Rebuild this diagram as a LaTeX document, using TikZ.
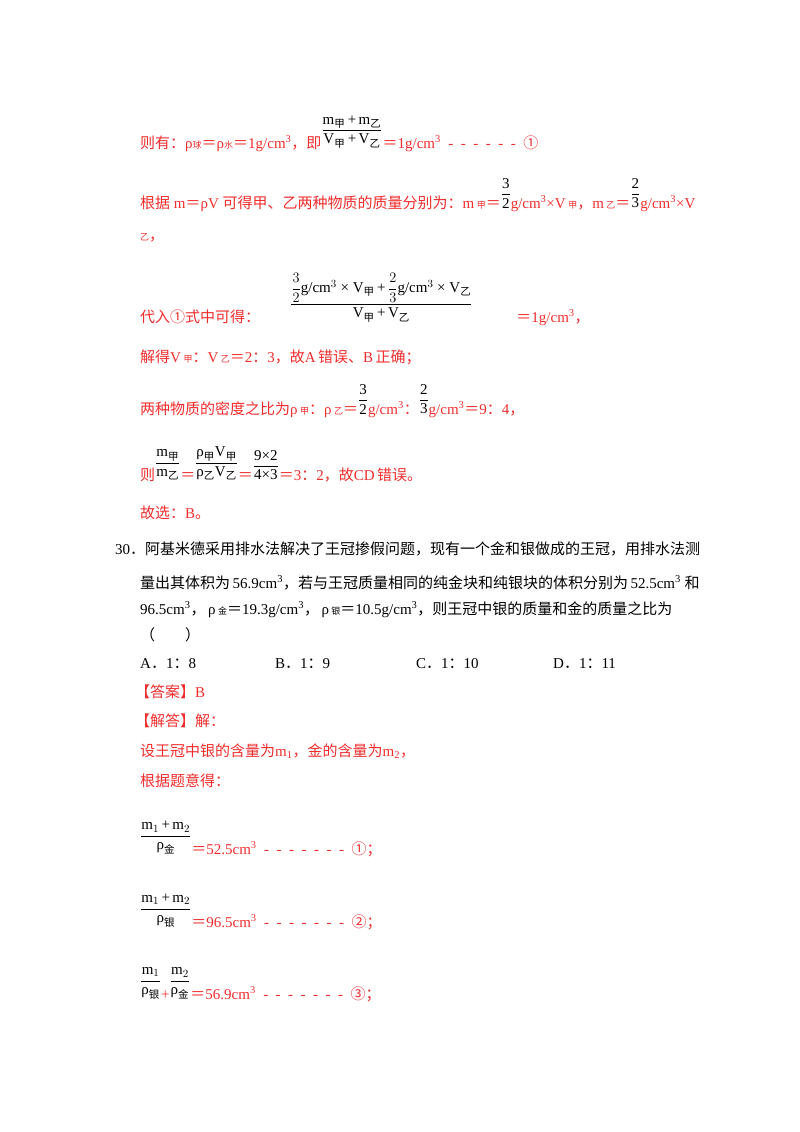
\documentclass[tikz,border=0pt]{standalone}
\usepackage{amsmath}
\usepackage{fontspec}
\setmainfont{Liberation Serif}
\newfontfamily\cjk{Noto Sans CJK SC}
\definecolor{ansred}{RGB}{240,45,45}
\newcommand{\zh}[1]{{\cjk #1}}
\newcommand{\sub}[1]{{\fontsize{9}{10}\selectfont\cjk #1}}
\newcommand{\cube}{\textsuperscript{3}}
\newcommand{\fr}[2]{\textcolor{black}{\raisebox{\depth}{$\dfrac{\text{#1}}{\text{#2}}$}}}
\newcommand{\hz}[1]{\text{\cjk #1}}
\newcommand{\dashes}[1]{\foreach \i in {1,...,#1}{\ \ -}\ \ }

\begin{document}
\begin{tikzpicture}[%
      x=1pt, y=-1pt,
      txt/.style={anchor=base west, inner sep=0pt, font=\fontsize{15}{18}\selectfont},
      ans/.style={txt, text=ansred},
      ]
      \useasboundingbox (0,0) rectangle (800,1132);
      
      \node[ans] (l1) at (140,148) {\zh{则有：}ρ\sub{球}\zh{＝}ρ\sub{水}\zh{＝}1g/cm\cube\zh{，即}\fr{m$_{\hz{甲}}$\,+\,m$_{\hz{乙}}$}{V$_{\hz{甲}}$\,+\,V$_{\hz{乙}}$}\zh{＝}1g/cm\cube\dashes{6}\zh{①}};
      \node[ans] (l2) at (140,208) {\zh{根据} m\zh{＝}ρV \zh{可得甲、乙两种物质的质量分别为：}m\,\sub{甲}\zh{＝}\fr{3}{2}g/cm\cube×V\,\sub{甲}\zh{，}m\,\sub{乙}\zh{＝}\fr{2}{3}g/cm\cube×V};
      \node[ans] (l3) at (140,240) {\sub{乙}\zh{，}};
      \node[ans] (l4) at (140,322) {\zh{代入①式中可得：}\qquad\fr{$\dfrac{3}{2}$g/cm$^3$ × V$_{\hz{甲}}$\,+\,$\dfrac{2}{3}$g/cm$^3$ × V$_{\hz{乙}}$}{V$_{\hz{甲}}$\,+\,V$_{\hz{乙}}$}\hspace{44pt}\zh{＝}1g/cm\cube\zh{，}};
      \node[ans] (l5) at (140,362) {\zh{解得}V\,\sub{甲}\zh{：}V\,\sub{乙}\zh{＝}2\zh{：}3\zh{，故}A\,\zh{错误、}B\,\zh{正确；}};
      \node[ans] (l6) at (140,414) {\zh{两种物质的密度之比为}ρ\,\sub{甲}\zh{：}ρ\,\sub{乙}\zh{＝}\fr{3}{2}g/cm\cube\zh{：}\fr{2}{3}g/cm\cube\zh{＝}9\zh{：}4\zh{，}};
      \node[ans] (l7) at (140,480) {\zh{则}\fr{m$_{\hz{甲}}$}{m$_{\hz{乙}}$}\zh{＝}\fr{ρ$_{\hz{甲}}$V$_{\hz{甲}}$}{ρ$_{\hz{乙}}$V$_{\hz{乙}}$}\zh{＝}\fr{9×2}{4×3}\zh{＝}3\zh{：}2\zh{，故}CD\,\zh{错误。}};
      \node[ans] (l8) at (140,518) {\zh{故选：}B\zh{。}};
      
      \node[txt] (q30) at (115,554) {30\zh{．阿基米德采用排水法解决了王冠掺假问题，现有一个金和银做成的王冠，用排水法测}};
      \node[txt] (q2) at (140,588) {\zh{量出其体积为}\,56.9cm\cube\zh{，若与王冠质量相同的纯金块和纯银块的体积分别为}\,52.5cm\cube\ \zh{和}};
      \node[txt] (q3) at (140,614) {96.5cm\cube\zh{，}\,ρ\,\sub{金}\zh{＝}19.3g/cm\cube\zh{，}\,ρ\,\sub{银}\zh{＝}10.5g/cm\cube\zh{，}\zh{则王冠中银的质量和金的质量之比为}};
      \node[txt] (q4) at (140,640) {\zh{（\qquad）}};
      \node[txt] (oa) at (140,668) {A\zh{．}1\zh{：}8};
      \node[txt] (ob) at (275,668) {B\zh{．}1\zh{：}9};
      \node[txt] (oc) at (416,668) {C\zh{．}1\zh{：}10};
      \node[txt] (od) at (553,668) {D\zh{．}1\zh{：}11};
      
      \node[ans] (key) at (135,697) {\zh{【答案】}B};
      \node[ans] (sol) at (135,726) {\zh{【解答】解：}};
      \node[ans] (s1) at (140,756) {\zh{设王冠中银的含量为}m\textsubscript{1}\zh{，金的含量为}m\textsubscript{2}\zh{，}};
      \node[ans] (s2) at (140,786) {\zh{根据题意得：}};
      \node[ans] (e1) at (140,854) {\fr{m$_1$\,+\,m$_2$}{ρ$_{\hz{金}}$}\zh{＝}52.5cm\cube\dashes{7}\zh{①；}};
      \node[ans] (e2) at (140,927) {\fr{m$_1$\,+\,m$_2$}{ρ$_{\hz{银}}$}\zh{＝}96.5cm\cube\dashes{7}\zh{②；}};
      \node[ans] (e3) at (140,999) {\fr{m$_1$}{ρ$_{\hz{银}}$}+\fr{m$_2$}{ρ$_{\hz{金}}$}\zh{＝}56.9cm\cube\dashes{7}\zh{③；}};
      \end{tikzpicture}
\end{document}
